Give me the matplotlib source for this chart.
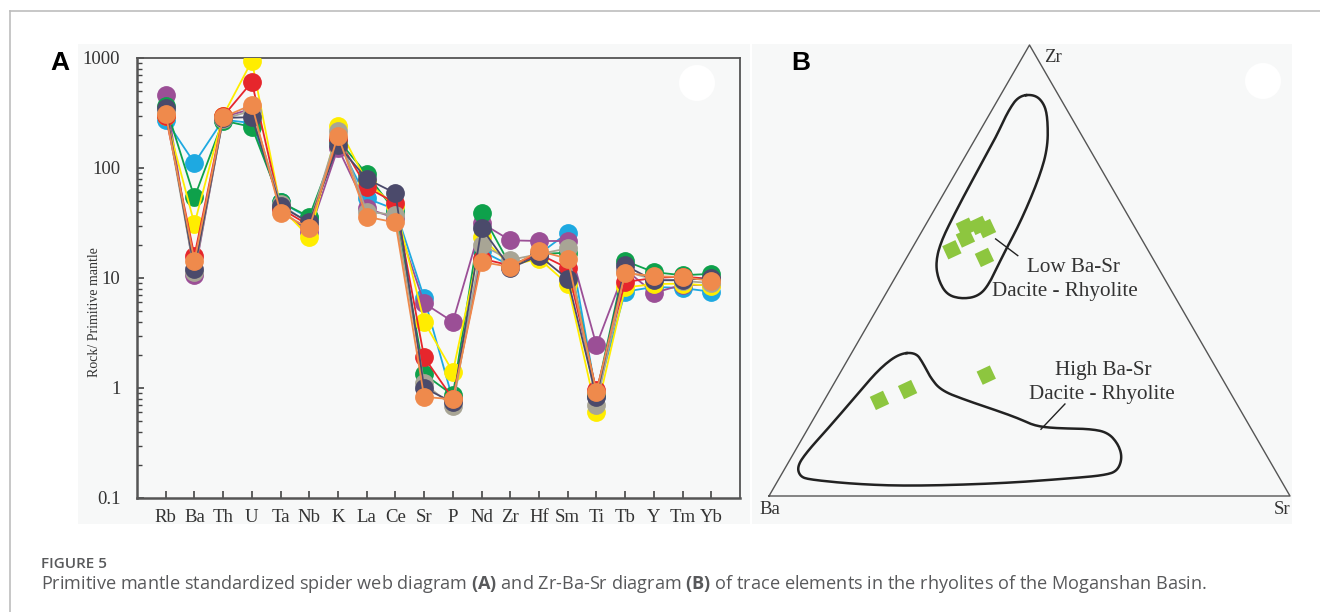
import numpy as np
import matplotlib
matplotlib.use("Agg")
import matplotlib.pyplot as plt
from matplotlib.patches import Rectangle, Ellipse
from matplotlib.lines import Line2D
from matplotlib.markers import MarkerStyle
from matplotlib.transforms import Affine2D

plt.rcParams["mathtext.fontset"] = "custom"
plt.rcParams["mathtext.bf"] = "Open Sans:bold"
plt.rcParams["mathtext.rm"] = "Open Sans"

# ---- panel A : spider diagram data (rock / primitive mantle) ----
elements = ["Rb", "Ba", "Th", "U", "Ta", "Nb", "K", "La", "Ce", "Sr",
            "P", "Nd", "Zr", "Hf", "Sm", "Ti", "Tb", "Y", "Tm", "Yb"]

blue   = [273, 111, 275, 256, 49, 35, 175, 53, 42, 6.6, 0.78, 17.6, 13, 16.5, 25.7, 0.85, 7.5, 8.3, 8.1, 7.5]
purple = [461, 10.7, 290, 345, 42, 26, 152, 43, 35, 5.9, 4.0, 31.6, 22, 21.7, 21.7, 2.45, 12, 7.3, 8.7, 8.6]
green  = [366, 54, 270, 236, 49, 36, 180, 88, 40, 1.34, 0.86, 39, 13, 16.5, 17, 0.88, 14.3, 11.3, 10.6, 10.9]
yellow = [300, 31, 300, 940, 44, 23.5, 240, 75, 45, 4.0, 1.4, 23.5, 13, 15, 8.8, 0.6, 8.2, 8.8, 8.9, 8.5]
red    = [296, 15.9, 295, 605, 43, 30, 185, 67, 48, 1.9, 0.8, 15, 13, 16.5, 12.3, 0.95, 9.2, 10, 10.3, 9.8]
gray   = [330, 11.3, 280, 330, 47, 31, 217, 40, 37.5, 1.1, 0.68, 20, 14.6, 16.5, 18.6, 0.7, 11.5, 9.7, 9.4, 9.0]
navy   = [350, 12, 285, 290, 45, 32, 162, 79.6, 59, 1.0, 0.74, 28.5, 12.3, 16, 9.8, 0.83, 13, 9.5, 9.6, 10]
orange = [310, 14.3, 290, 375, 39, 28.5, 197, 36, 32, 0.83, 0.79, 14, 12.6, 17.6, 15, 0.92, 11.1, 10.4, 10.2, 9.4]

series = [blue, purple, green, yellow, red, gray, navy, orange]
colors = ["#1ea9e1", "#9b4f96", "#0ea14b", "#ffed00", "#e6262c", "#a8a595", "#4b4a6b", "#ef8a4c"]

# ---- panel B : Zr-Ba-Sr ternary (fractions, Ba = 1 - Zr - Sr) ----
samp_zr = [0.596, 0.600, 0.593, 0.572, 0.546, 0.529, 0.268, 0.236, 0.212]
samp_sr = [0.079, 0.103, 0.121, 0.091, 0.078, 0.149, 0.283, 0.148, 0.106]

low_zr = [0.888, 0.890, 0.869, 0.836, 0.772, 0.705, 0.608, 0.533, 0.466, 0.442,
          0.437, 0.447, 0.481, 0.518, 0.563, 0.630, 0.705, 0.794, 0.854]
low_sr = [0.036, 0.066, 0.094, 0.117, 0.149, 0.166, 0.179, 0.182, 0.188, 0.179,
          0.150, 0.117, 0.084, 0.061, 0.048, 0.043, 0.040, 0.038, 0.032]

high_zr = [0.316, 0.318, 0.294, 0.264, 0.234, 0.212, 0.185, 0.170, 0.155, 0.150,
           0.149, 0.141, 0.114, 0.084, 0.055, 0.046, 0.040, 0.028, 0.022, 0.026,
           0.036, 0.043, 0.066, 0.099, 0.152, 0.226, 0.283]
high_sr = [0.092, 0.123, 0.149, 0.177, 0.213, 0.273, 0.356, 0.398, 0.434, 0.478,
           0.541, 0.580, 0.614, 0.636, 0.641, 0.620, 0.568, 0.435, 0.264, 0.157,
           0.062, 0.038, 0.021, 0.024, 0.039, 0.057, 0.071]

H = np.sqrt(3) / 2


def tern(zr, sr):
    zr = np.asarray(zr, float)
    sr = np.asarray(sr, float)
    return sr + zr / 2, zr * H


def chaikin(x, y, n=3):
    # smooth a closed outline
    p = np.column_stack([x, y])
    for _ in range(n):
        q = np.roll(p, -1, axis=0)
        p = np.column_stack([0.75 * p + 0.25 * q, 0.25 * p + 0.75 * q]).reshape(-1, 2)
    p = np.vstack([p, p[:1]])
    return p[:, 0], p[:, 1]


W, Hpx = 1320, 612
fig = plt.figure(figsize=(13.2, 6.12), dpi=100)
fig.patch.set_facecolor("white")


def fx(px):
    return px / W


def fy(py):
    return 1 - py / Hpx


# figure frame lines
fig.add_artist(Line2D([fx(10), fx(10)], [fy(11), 0], color="#bdbdbd", lw=1.2))
fig.add_artist(Line2D([fx(10), 1], [fy(11), fy(11)], color="#bdbdbd", lw=1.2))

# panel backgrounds
fig.add_artist(Rectangle((fx(78), fy(524)), fx(672), (524 - 44) / Hpx,
                         facecolor="#f7f8f8", edgecolor="none", zorder=-5))
fig.add_artist(Rectangle((fx(752), fy(524)), fx(540), (524 - 44) / Hpx,
                         facecolor="#f7f8f8", edgecolor="none", zorder=-5))

serif = ["Liberation Serif", "DejaVu Serif"]

# ---------------- panel A ----------------
ax = fig.add_axes([fx(137), fy(498), fx(740 - 137), (498 - 58) / Hpx])
ax.set_facecolor("#f7f8f8")
xs = np.arange(1, len(elements) + 1)
for vals, c in zip(series, colors):
    ax.plot(xs, vals, "-o", color=c, lw=1.3, ms=12.5, mec=c, zorder=3)

ax.set_yscale("log")
ax.set_ylim(0.1, 1000)
ax.set_xlim(0, 21)
ax.set_xticks(xs)
ax.set_xticklabels(elements)
ax.set_yticks([0.1, 1, 10, 100, 1000])
ax.set_yticklabels(["0.1", "1", "10", "100", "1000"])
ax.tick_params(axis="both", which="major", direction="in", length=5, width=1.2,
               color="#444444", labelsize=13.5, labelcolor="#333333")
ax.tick_params(axis="x", pad=8)
ax.tick_params(axis="y", pad=12)
ax.tick_params(axis="y", which="minor", direction="in", length=3.5, width=1,
               color="#444444")
for lab in ax.get_xticklabels() + ax.get_yticklabels():
    lab.set_fontfamily(serif)
for s in ax.spines.values():
    s.set_color("#555555")
    s.set_linewidth(1.3)
ax.spines["left"].set_linewidth(1.8)
ax.spines["bottom"].set_linewidth(1.8)

fig.text(fx(94), fy(312), "Rock/ Primitive mantle", rotation=90, ha="center",
         va="center", fontsize=10, family=serif, color="#333333")
fig.text(fx(60), fy(63), "A", fontsize=19, fontweight="bold", ha="center",
         va="center", family=["Liberation Sans", "DejaVu Sans"])

# ---------------- panel B ----------------
bx = fig.add_axes([fx(769), fy(496), fx(1290 - 769), (496 - 45) / Hpx])
bx.set_xlim(0, 1)
bx.set_ylim(0, H)
bx.axis("off")
bx.patch.set_alpha(0)

tx = [0, 1, 0.5, 0]
ty = [0, 0, H, 0]
bx.plot(tx, ty, color="#555555", lw=1.0, clip_on=False)

lx, ly = chaikin(*tern(low_zr, low_sr))
bx.plot(lx, ly, color="#222222", lw=1.8)
hx, hy = chaikin(*tern(high_zr, high_sr))
bx.plot(hx, hy, color="#222222", lw=1.8)

sq = MarkerStyle("s", transform=Affine2D().rotate_deg(25))
px_, py_ = tern(samp_zr, samp_sr)
bx.scatter(px_, py_, marker=sq, s=110, color="#8dc63f", edgecolors="none", zorder=4)

# leader lines
l1x, l1y = tern([0.570, 0.533], [0.150, 0.211])
bx.plot(l1x, l1y, color="#222222", lw=1.0)
l2x, l2y = tern([0.148, 0.204], [0.448, 0.466])
bx.plot(l2x, l2y, color="#222222", lw=1.0)

tfont = dict(family=serif, fontsize=15.2, color="#333333", ha="center", va="center")
bx.text(0.585, 0.507 * H, "Low Ba-Sr", **tfont)
bx.text(0.568, 0.454 * H, "Dacite - Rhyolite", **tfont)
bx.text(0.642, 0.279 * H, "High Ba-Sr", **tfont)
bx.text(0.638, 0.224 * H, "Dacite - Rhyolite", **tfont)

fig.text(fx(1053), fy(57), "Zr", family=serif, fontsize=13.5, ha="center", va="center", color="#333333")
fig.text(fx(770), fy(510), "Ba", family=serif, fontsize=13.5, ha="center", va="center", color="#333333")
fig.text(fx(1282), fy(510), "Sr", family=serif, fontsize=13.5, ha="center", va="center", color="#333333")
fig.text(fx(801), fy(63), "B", fontsize=19, fontweight="bold", ha="center",
         va="center", family=["Liberation Sans", "DejaVu Sans"])

# white blobs in the source image
fig.add_artist(Ellipse((fx(697), fy(83)), 36 / W, 36 / Hpx, facecolor="white", edgecolor="none"))
fig.add_artist(Ellipse((fx(1263), fy(81)), 36 / W, 36 / Hpx, facecolor="white", edgecolor="none"))

# caption
fig.text(fx(41), fy(564), "FIGURE 5", fontsize=11, fontweight="semibold",
         family=["Open Sans", "DejaVu Sans"], color="#58595b", va="center")
fig.text(fx(41), fy(584),
         "Primitive mantle standardized spider web diagram $\\bf{(A)}$ and Zr-Ba-Sr diagram $\\bf{(B)}$ "
         "of trace elements in the rhyolites of the Moganshan Basin.",
         fontsize=13.1, family=["Open Sans", "DejaVu Sans"], color="#58595b", va="center")

fig.savefig("out.png", dpi=100)
